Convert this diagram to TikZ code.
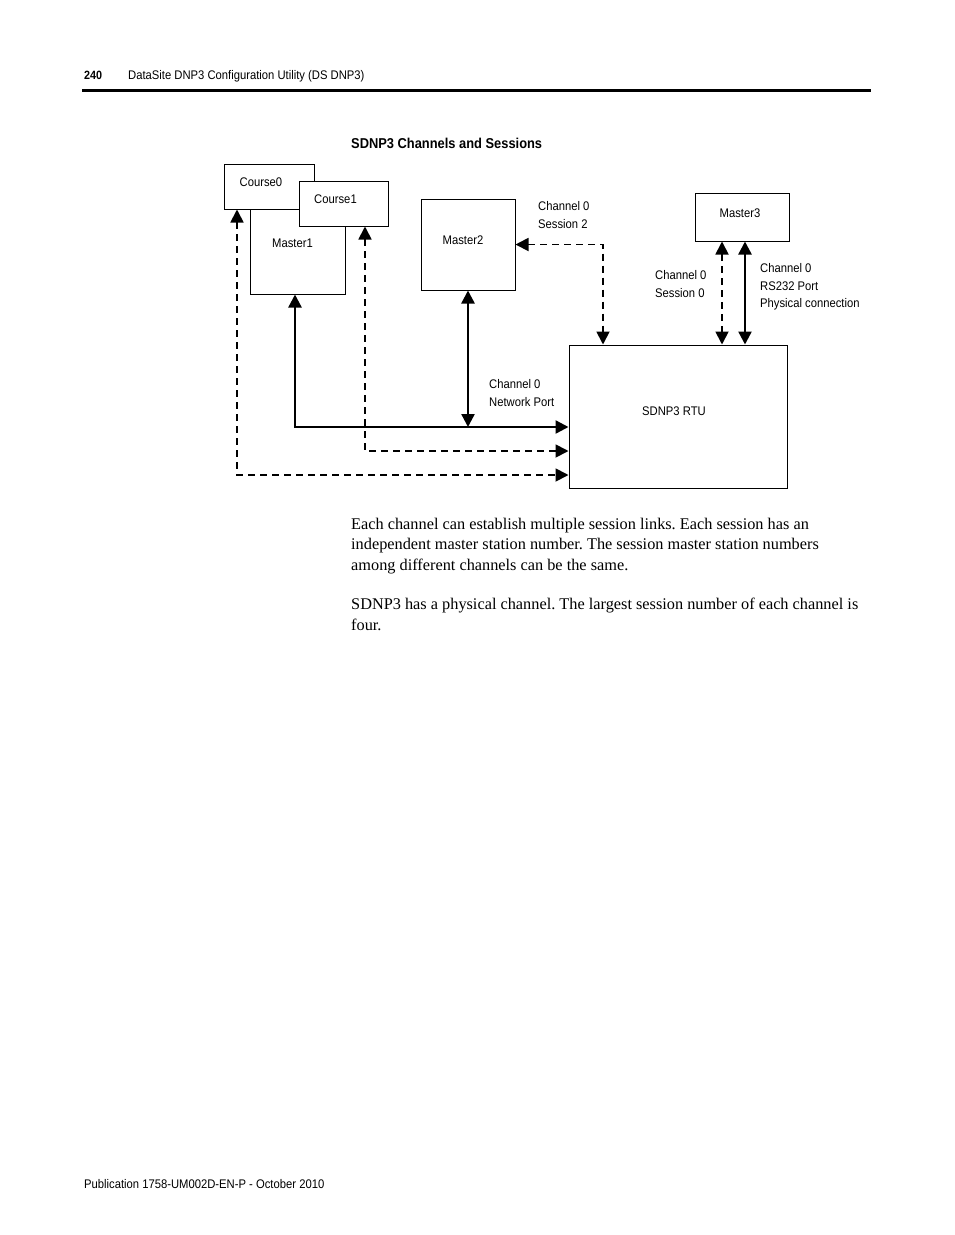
\documentclass[tikz,border=0pt]{standalone}
\usepackage{fontspec}
\setmainfont{Liberation Serif}
\setsansfont{Liberation Sans}[FakeStretch=0.9]
\usetikzlibrary{arrows.meta}
\usetikzlibrary{positioning}

\tikzset{
  box/.style={draw, line width=1pt, fill=white, inner sep=0pt},
  boxtxt/.style={inner sep=0pt, font=\sffamily\fontsize{12.5}{14}\selectfont},
  lbl/.style={anchor=north west, align=left, inner sep=0pt,
    font=\sffamily\fontsize{12.5}{17.5}\selectfont},
  link/.style={line width=2.4pt, {Triangle[length=13pt,width=13pt]}-{Triangle[length=13pt,width=13pt]}},
  dlink/.style={link, line width=1.8pt, dash pattern=on 7pt off 5pt},
  head/.style={anchor=base west, inner sep=0pt, font=\sffamily\fontsize{12.5}{14}\selectfont},
  para/.style={anchor=north west, align=left, inner sep=0pt,
    font=\rmfamily\frenchspacing\fontsize{16.3}{20.5}\selectfont}
}

\begin{document}
\begin{tikzpicture}[x=1pt, y=-1pt]
	\useasboundingbox (0,0) rectangle (954,1235);
	% page header
	\node[head, font=\sffamily\bfseries\fontsize{12}{14}\selectfont] (pgno) at (84,79.5) {240};
	\node[head] (chap) at (128,79.5) {DataSite DNP3 Configuration Utility (DS DNP3)};
	\draw[line width=3pt] (82,90) -- (871,90);
	\node[head, font=\sffamily\bfseries\fontsize{14.3}{16}\selectfont] (title) at (351,148) {SDNP3 Channels and Sessions};

	% boxes
	\node[box, minimum width=95pt, minimum height=100pt,
	  label={[boxtxt, shift={(-5,-1)}]center:Master1}] (m1) at (297.5,244) {};
	\node[box, minimum width=90pt, minimum height=45pt,
	  label={[boxtxt, shift={(-8,-4.5)}]center:Course0}] (c0) at (269,186.5) {};
	\node[box, minimum width=89pt, minimum height=45pt,
	  label={[boxtxt, shift={(-8,-4.5)}]center:Course1}] (c1) at (343.5,203.5) {};
	\node[box, minimum width=94pt, minimum height=91pt,
	  label={[boxtxt, shift={(-5,-4.5)}]center:Master2}] (m2) at (468,244.5) {};
	\node[box, minimum width=94pt, minimum height=48pt,
	  label={[boxtxt, shift={(-2,-4)}]center:Master3}] (m3) at (742,217) {};
	\node[box, minimum width=218pt, minimum height=143pt,
	  label={[boxtxt, shift={(-4,-5.5)}]center:SDNP3 RTU}] (rtu) at (678,416.5) {};

	% labels
	\node[lbl] (s2) at (538,201.5) {Channel 0\\Session 2};
	\node[lbl] (s0) at (655,270.5) {Channel 0\\Session 0};
	\node[lbl] (rs) at (760,263.5) {Channel 0\\RS232 Port\\Physical connection};
	\node[lbl] (np) at (489,379.5) {Channel 0\\Network Port};

	% connections
	\draw[link] ([xshift=-2.5pt]m1.south) |- ([yshift=-10.5pt]rtu.west);
	\draw[link] (m2.south) -- (m2.south |- 0,427);
	\draw[dlink] ([xshift=21.5pt]c1.south) |- ([yshift=-34.5pt]rtu.west);
	\draw[dlink] ([xshift=-32pt]c0.south) |- ([yshift=-58.5pt]rtu.west);
	\draw[dlink] (m2.east) -| ([xshift=-75pt]rtu.north);
	\draw[dlink] ([xshift=-20pt]m3.south) -- ([xshift=-20pt]m3.south |- rtu.north);
	\draw[link] ([xshift=3pt]m3.south) -- ([xshift=3pt]m3.south |- rtu.north);

	% text below
	\node[para] (p1) at (351,517.5) {Each channel can establish multiple session links. Each session has an\\independent master station number. The session master station numbers\\among different channels can be the same.};
	\node[para] (p2) at (351,598) {SDNP3 has a physical channel. The largest session number of each channel is\\four.};

	% footer
	\node[head] (pub) at (84,1188) {Publication 1758-UM002D-EN-P - October 2010};
\end{tikzpicture}
\end{document}
